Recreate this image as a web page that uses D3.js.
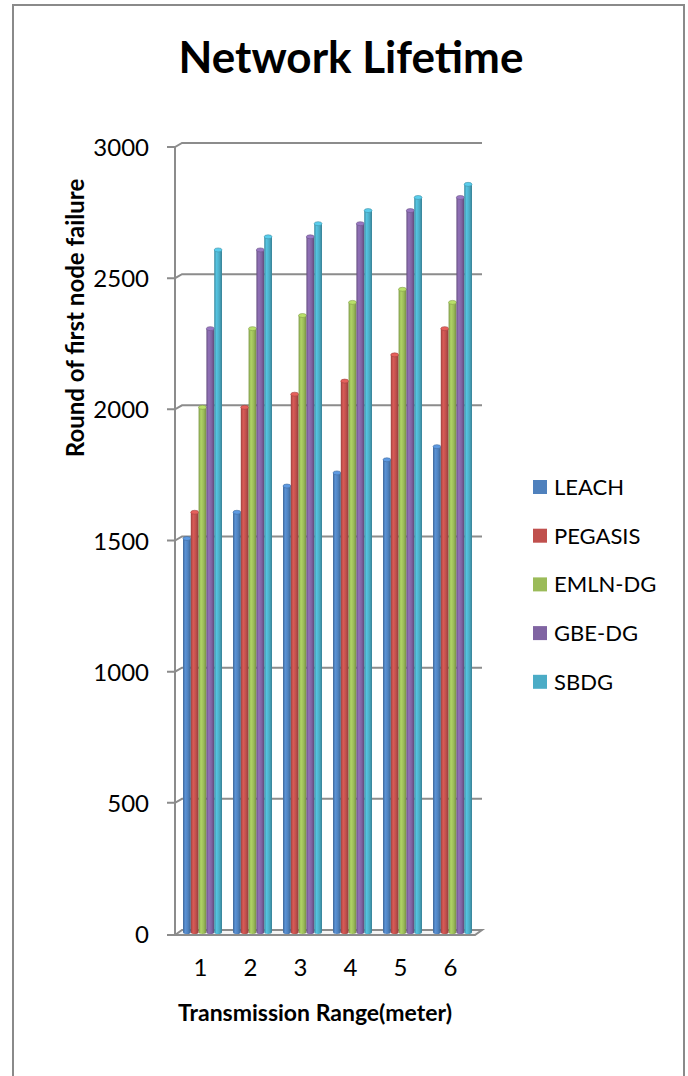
<!DOCTYPE html>
<html>
<head>
<meta charset="utf-8">
<script src="https://cdn.jsdelivr.net/npm/d3@7"></script>
<style>
  html, body { margin: 0; padding: 0; background: #fff; }
  svg { display: block; }
  text { font-family: Lato, "Open Sans", "Liberation Sans", sans-serif; fill: #000; }
</style>
</head>
<body>
<svg id="chart" width="688" height="1076"></svg>
<script>
// Transmission range categories
const categories = ["1", "2", "3", "4", "5", "6"];

// Round of first node failure per protocol
const seriesNames = ["LEACH", "PEGASIS", "EMLN-DG", "GBE-DG", "SBDG"];
const leach   = [1500, 1600, 1700, 1750, 1800, 1850];
const pegasis = [1600, 2000, 2050, 2100, 2200, 2300];
const emlnDg  = [2000, 2300, 2350, 2400, 2450, 2400];
const gbeDg   = [2300, 2600, 2650, 2700, 2750, 2800];
const sbdg    = [2600, 2650, 2700, 2750, 2800, 2850];
const seriesValues = [leach, pegasis, emlnDg, gbeDg, sbdg];

const yTicks = [0, 500, 1000, 1500, 2000, 2500, 3000];
const colors = ["#4F81BD", "#C0504D", "#9BBB59", "#8064A2", "#4BACC6"];

const svg = d3.select("#chart");
const defs = svg.append("defs");

// outer frame
svg.append("rect")
  .attr("x", 13).attr("y", 5).attr("width", 671).attr("height", 1100)
  .attr("fill", "none").attr("stroke", "#8a8a8a").attr("stroke-width", 2);

// Title
svg.append("text")
  .attr("x", 351).attr("y", 73)
  .attr("text-anchor", "middle")
  .attr("font-size", 44).attr("font-weight", "bold")
  .text("Network Lifetime");

// 3D depth offset between front axis and back wall
const dx = 7, dy = -4;

// back-wall value scale
const y = d3.scaleLinear().domain([0, 3000]).range([930, 143]);
const wallLeft = 182, wallRight = 482;
const axisX = wallLeft - dx;

const x = d3.scaleBand().domain(categories).range([177.5, 477.5]).paddingInner(0.22).paddingOuter(0.11);
const xs = d3.scaleBand().domain(seriesNames).range([0, x.bandwidth()]);

const gridColor = "#8c8c8c";

// Gridlines on back wall with diagonal link to front axis
const grid = svg.append("g");
yTicks.forEach(t => {
  if (t === 0) return;
  const yb = y(t);
  grid.append("path")
    .attr("d", `M${axisX - 8},${yb - dy} L${axisX},${yb - dy} L${wallLeft},${yb} L${wallRight},${yb}`)
    .attr("fill", "none").attr("stroke", gridColor).attr("stroke-width", 2);
});

// floor
const yf = y(0);
grid.append("path")
  .attr("d", `M${axisX - 8},${yf - dy + 1} L${wallRight - dx},${yf - dy + 1} L${wallRight},${yf} L${wallLeft},${yf} L${axisX},${yf - dy + 1}`)
  .attr("fill", "#f4f4f4").attr("stroke", gridColor).attr("stroke-width", 2);

// front vertical axis
grid.append("line")
  .attr("x1", axisX).attr("x2", axisX)
  .attr("y1", y(3000) - dy).attr("y2", yf - dy + 1)
  .attr("stroke", gridColor).attr("stroke-width", 2);

// Y tick labels
svg.append("g").selectAll("text").data(yTicks).join("text")
  .attr("x", 149).attr("y", d => y(d) - dy + 9)
  .attr("text-anchor", "end")
  .attr("font-size", 24)
  .text(d => d);

// cylinder gradients
colors.forEach((c, i) => {
  const base = d3.color(c);
  const g = defs.append("linearGradient").attr("id", "cyl" + i)
    .attr("x1", "0%").attr("x2", "100%").attr("y1", "0%").attr("y2", "0%");
  g.append("stop").attr("offset", "0%").attr("stop-color", base.darker(0.6));
  g.append("stop").attr("offset", "30%").attr("stop-color", base.brighter(0.35));
  g.append("stop").attr("offset", "65%").attr("stop-color", base);
  g.append("stop").attr("offset", "100%").attr("stop-color", base.darker(0.8));
});

// Bars (cylinders)
const bars = svg.append("g");
categories.forEach((cat, ci) => {
  seriesNames.forEach((s, si) => {
    const v = seriesValues[si][ci];
    const bx = x(cat) + xs(s);
    const bw = xs.bandwidth();
    const top = y(v) + 2;
    const bottom = yf + 2;
    const ry = 2;
    const g = bars.append("g");
    g.append("path")
      .attr("d", `M${bx},${top} L${bx},${bottom} A${bw / 2},${ry} 0 0 0 ${bx + bw},${bottom} L${bx + bw},${top} Z`)
      .attr("fill", `url(#cyl${si})`);
    g.append("ellipse")
      .attr("cx", bx + bw / 2).attr("cy", top).attr("rx", bw / 2).attr("ry", ry)
      .attr("fill", d3.color(colors[si]).brighter(0.5))
      .attr("stroke", d3.color(colors[si]).darker(0.5)).attr("stroke-width", 0.6);
  });
});

// X tick labels
svg.append("g").selectAll("text").data(categories).join("text")
  .attr("x", d => x(d) + x.bandwidth() / 2 - 2)
  .attr("y", 976)
  .attr("text-anchor", "middle")
  .attr("font-size", 24)
  .text(d => d);

// Axis titles
svg.append("text")
  .attr("x", 315).attr("y", 1021)
  .attr("text-anchor", "middle")
  .attr("font-size", 23).attr("font-weight", "bold")
  .text("Transmission Range(meter)");

svg.append("text")
  .attr("transform", "translate(84,318) rotate(-90)")
  .attr("text-anchor", "middle")
  .attr("font-size", 24).attr("font-weight", "bold")
  .text("Round of first node failure");

// Legend
const legend = svg.append("g");
seriesNames.forEach((s, i) => {
  const ly = 487 + i * 48.7;
  legend.append("rect")
    .attr("x", 533).attr("y", ly - 7).attr("width", 14).attr("height", 14)
    .attr("fill", colors[i]);
  legend.append("text")
    .attr("x", 554).attr("y", ly + 8)
    .attr("font-size", 22)
    .text(s);
});
</script>
</body>
</html>
